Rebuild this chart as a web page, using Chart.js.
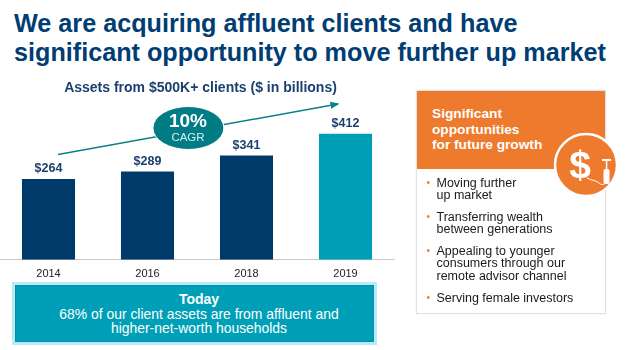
<!DOCTYPE html>
<html>
<head>
<meta charset="utf-8">
<script src="https://cdn.jsdelivr.net/npm/chart.js@4"></script>
<style>
  html, body { margin: 0; padding: 0; background: #fff; }
  body { position: relative; width: 640px; height: 350px; overflow: hidden; font-family: "Liberation Sans", Arial, sans-serif; }
  .abs { position: absolute; }
  #headline { left: 14px; top: 9px; font-size: 25.2px; line-height: 29px; font-weight: bold; color: #003d73; white-space: nowrap; }
  #chartBox { left: -1px; top: 80px; width: 396px; height: 201px; }
  #overlay { left: 0; top: 0; }
  #cagr { left: 153px; top: 110px; width: 70px; text-align: center; color: #fff; }
  #cagr b { display: block; font-size: 19px; line-height: 20px; margin-top: 1px; }
  #cagr span { display: block; font-size: 11.5px; line-height: 12px; color: #d5eef0; }
  #today { left: 12px; top: 282px; width: 350px; height: 57px; border: 3px solid #b5ecf6; background: #009fb8; color: #fff; text-align: center; font-size: 13.9px; line-height: 14.3px; padding: 0 0 0 9px; box-shadow: inset 0 0 0 1px #0a8ea5; }
  #today b { display: block; font-size: 14px; line-height: 15px; margin-top: 6.5px; }
  #panel { left: 416px; top: 90px; width: 188px; height: 222px; border: 1px solid #e2e2e2; box-shadow: 0 0 1px #ddd; }
  #panelHead { left: 0; top: 0; width: 188px; height: 78px; background: #ed7a2d; }
  #panelTitle { left: 15px; top: 15px; font-size: 13.7px; line-height: 15.5px; font-weight: bold; color: #fff; white-space: nowrap; }
  #bullets { left: 9.5px; top: 85.5px; margin: 0; padding: 0; list-style: none; font-size: 12.5px; line-height: 12.8px; color: #1a1a1a; white-space: nowrap; }
  #bullets li { position: relative; padding-left: 10px; margin-bottom: 8.5px; }
  #bullets li::before { content: "\2022"; position: absolute; left: 0; top: 0; color: #ed7a2d; font-size: 10px; }
  #dollar { left: 562px; top: 144px; width: 36px; text-align: center; font-size: 39px; line-height: 42px; font-weight: bold; color: #fff; }
</style>
</head>
<body>
<div id="headline" class="abs">We are acquiring affluent clients and have<br>significant opportunity to move further up market</div>

<div id="chartBox" class="abs"><canvas id="assetsChart" width="396" height="201"></canvas></div>

<svg id="overlay" class="abs" width="640" height="350">
  <defs>
    <marker id="tip" markerWidth="6" markerHeight="6" refX="5" refY="3" orient="auto">
      <path d="M0,0.6 L6,3 L0,5.4 Z" fill="#0b7f8a"></path>
    </marker>
  </defs>
  <line x1="58" y1="154.5" x2="338" y2="104" stroke="#0b7f8a" stroke-width="1.5" marker-end="url(#tip)"></line>
  <ellipse cx="188.4" cy="128" rx="35.5" ry="21.5" fill="#007c85" stroke="#fff" stroke-width="1"></ellipse>
</svg>
<div id="cagr" class="abs"><b>10%</b><span>CAGR</span></div>

<div id="today" class="abs"><b>Today</b>68% of our client assets are from affluent and<br>higher-net-worth households</div>

<div id="panel" class="abs">
  <div id="panelHead" class="abs"></div>
  <div id="panelTitle" class="abs">Significant<br>opportunities<br>for future growth</div>
  <ul id="bullets" class="abs">
    <li>Moving further<br>up market</li>
    <li>Transferring wealth<br>between generations</li>
    <li>Appealing to younger<br>consumers through our<br>remote advisor channel</li>
    <li>Serving female investors</li>
  </ul>
</div>

<svg class="abs" style="left:0;top:0" width="640" height="350">
  <circle cx="586" cy="165" r="31" fill="#ed7a2d" stroke="#fff" stroke-width="2.5"></circle>
  <path d="M587,178 C592,181 596,180 599,183 C601,185 603,185 606,183" fill="none" stroke="#fff" stroke-width="1"></path>
  <rect x="603.5" y="169" width="6" height="15" rx="2" fill="#fff"></rect>
  <rect x="605.8" y="160" width="1.5" height="9" fill="#fff"></rect>
  <rect x="602" y="159" width="9" height="2" fill="#fff"></rect>
</svg>
<div id="dollar" class="abs">$</div>

<script>
const years = ['2014', '2016', '2018', '2019'];
const assets = [264, 289, 341, 412];
const chartTitle = 'Assets from $500K+ clients ($ in billions)';

const NAVY = '#003a6b';
const TEAL = '#009fb8';

// value labels above the bars, title sits a bit right of the canvas centre
const barLabels = {
  id: 'barLabels',
  afterDatasetsDraw(chart) {
    const { ctx } = chart;
    const bars = chart.getDatasetMeta(0).data;
    ctx.save();
    ctx.fillStyle = '#1b3f6e';
    ctx.textAlign = 'center';
    ctx.textBaseline = 'bottom';
    ctx.font = 'bold 12.5px "Liberation Sans", Arial, sans-serif';
    bars.forEach((bar, i) => ctx.fillText('$' + assets[i], bar.x, bar.y - 4));
    ctx.font = 'bold 14px "Liberation Sans", Arial, sans-serif';
    ctx.textBaseline = 'middle';
    ctx.fillText(chartTitle, chart.width / 2 + 3.5, 8);
    ctx.restore();
  },
};

new Chart(document.getElementById('assetsChart'), {
  type: 'bar',
  data: {
    labels: years,
    datasets: [{
      data: assets,
      backgroundColor: ctx => (ctx.dataIndex === years.length - 1 ? TEAL : NAVY),
      barPercentage: 0.536,
      categoryPercentage: 1,
    }],
  },
  options: {
    responsive: false,
    animation: false,
    layout: { padding: { top: 25 } },
    plugins: {
      legend: { display: false },
      tooltip: { enabled: false },
    },
    scales: {
      y: { display: false, min: 0, max: 506 },
      x: {
        grid: { display: false },
        border: { color: '#c9c9c9', width: 1 },
        ticks: {
          color: '#222',
          padding: 0,
          font: { family: '"Liberation Sans", Arial, sans-serif', size: 11 },
        },
      },
    },
  },
  plugins: [barLabels],
});
</script>
</body>
</html>
